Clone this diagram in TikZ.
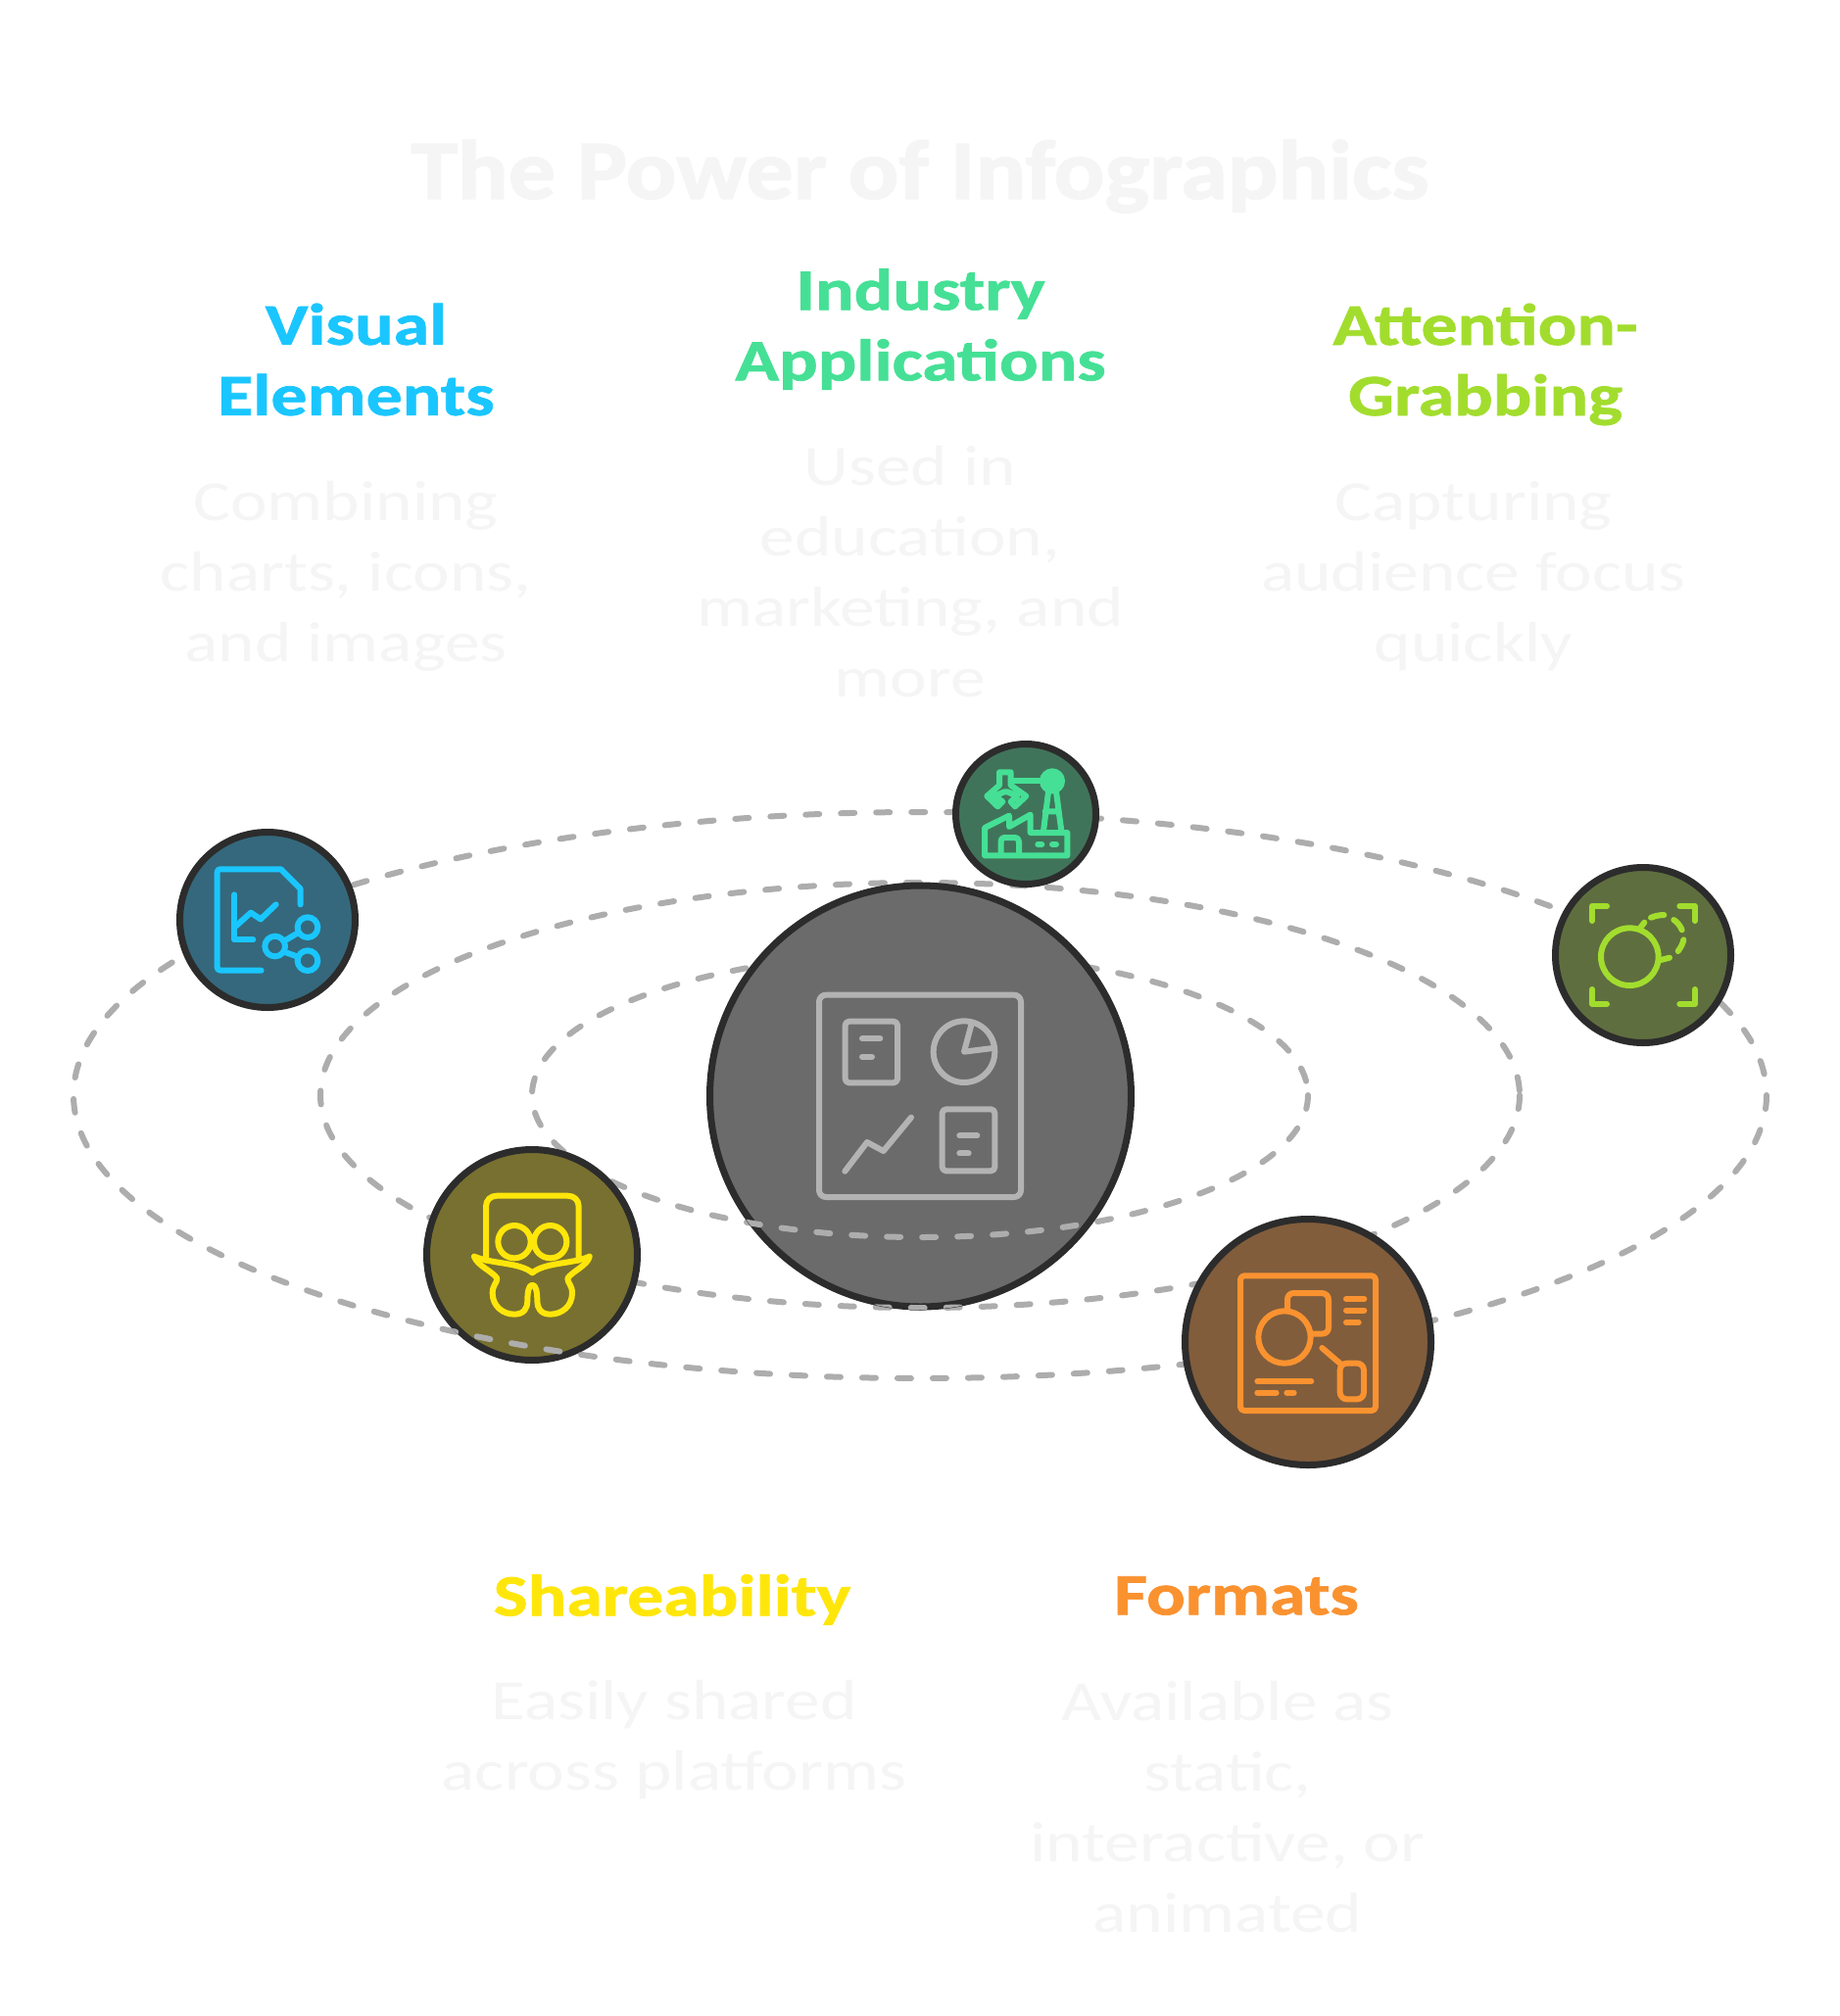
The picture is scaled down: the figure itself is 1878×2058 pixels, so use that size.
\documentclass[tikz,border=0pt]{standalone}
\usepackage{fontspec}
\setmainfont[FakeStretch=1.23,BoldFeatures={FakeBold=1.2}]{Carlito}
\newfontfamily\titlefont[FakeStretch=1.12,BoldFeatures={FakeBold=1.6}]{Carlito}
\definecolor{orbit}{HTML}{ADADAD}
\definecolor{ring}{HTML}{2C2C2C}
\definecolor{faint}{HTML}{F5F5F5}
\definecolor{cblue}{HTML}{1AC6FF}
\definecolor{cgreen}{HTML}{45E095}
\definecolor{clime}{HTML}{A2DD2E}
\definecolor{cyellow}{HTML}{FFE60A}
\definecolor{corange}{HTML}{FA9230}
\definecolor{cgray}{HTML}{B3B3B3}
\tikzset{
  orbitline/.style={draw=orbit,line width=6pt,line cap=round,dash pattern=on 14pt off 22pt},
  planet/.style={circle,draw=ring,line width=7pt,inner sep=0pt,outer sep=0pt},
  icon/.style={line width=6pt,line cap=round,line join=round},
  zoomed/.style={x=0.33333pt,y=-0.33333pt},
  heading/.style={font=\fontsize{60}{72}\selectfont\bfseries,align=center},
  bodytext/.style={font=\fontsize{58}{72}\selectfont,align=center,text=faint},
}
\begin{document}
\begin{tikzpicture}[x=1pt,y=-1pt]
\useasboundingbox (0,0) rectangle (1878,2058);
\fill[white] (0,0) rectangle (1878,2058);
\coordinate (mid) at (939,1118);
% orbits
\draw[orbitline] (mid) ellipse [x radius=864,y radius=289];
\draw[orbitline] (mid) ellipse [x radius=612,y radius=217];
\draw[orbitline] (mid) ellipse [x radius=396,y radius=145];
% circles
\node[planet,minimum size=430pt,fill={rgb,255:red,107;green,107;blue,107}] (hub) at (939.5,1119) {};
\node[planet,minimum size=179pt,fill={rgb,255:red,53;green,104;blue,124}] (visual) at (273,939) {};
\node[planet,minimum size=143pt,fill={rgb,255:red,64;green,116;blue,90}] (industry) at (1047,831) {};
\node[planet,minimum size=179pt,fill={rgb,255:red,95;green,110;blue,63}] (attention) at (1677,975) {};
\node[planet,minimum size=215pt,fill={rgb,255:red,120;green,112;blue,48}] (share) at (543,1281) {};
\node[planet,minimum size=251pt,fill={rgb,255:red,129;green,93;blue,60}] (formats) at (1335,1370) {};
% front halves of orbits over circles
\begin{scope}
  \clip (939.5,1119) circle [radius=218];
  \clip (0,1119) rectangle (1878,2058);
  \draw[orbitline] (mid) ellipse [x radius=612,y radius=217];
  \draw[orbitline] (mid) ellipse [x radius=396,y radius=145];
\end{scope}
\begin{scope}
  \clip (543,1281) circle [radius=111];
  \clip (0,1300) rectangle (1878,2058);
  \draw[orbitline] (mid) ellipse [x radius=864,y radius=289];
\end{scope}
% hub icon
\begin{scope}[shift={(710,890)},zoomed,icon,draw=cgray]
  \draw[rounded corners=7pt] (378,377) rectangle (996,996);
  \draw[rounded corners=4pt] (458,458) rectangle (618,646);
  \draw (510,511) -- (565,511) (510,566) -- (540,566);
  \draw (822,551) circle [radius=94];
  \draw (845,465) -- (822,551) -- (910,540);
  \draw (457,917) -- (525,828) -- (575,855) -- (660,752);
  \draw[rounded corners=4pt] (755,727) rectangle (916,916);
  \draw (808,808) -- (862,808) (808,862) -- (836,862);
\end{scope}
% visual icon
\begin{scope}[shift={(160,830)},zoomed,icon,draw=cblue]
  \draw (320,482) -- (197,482) .. controls (188,482) and (185,478) .. (185,472) -- (185,182) .. controls (185,175) and (188,172) .. (195,172) -- (380,172) -- (440,232) -- (440,280);
  \draw (238,250) -- (238,388) -- (295,388);
  \draw (238,350) -- (288,305) -- (318,325) -- (365,280);
  \draw (362,408) circle [radius=31] (462,350) circle [radius=31] (462,452) circle [radius=31];
  \draw (390,392) -- (432,367) (390,425) -- (432,440);
\end{scope}
% industry icon
\begin{scope}[shift={(960,740)},zoomed,icon,draw=cgreen]
  \draw (135,400) -- (135,315) -- (210,278) -- (210,312) -- (275,275) -- (275,330) -- (388,330) -- (388,400) -- cycle;
  \draw (185,398) -- (185,358) .. controls (185,348) and (190,345) .. (200,345) -- (225,345) .. controls (235,345) and (240,350) .. (240,358) -- (240,398);
  \draw[line width=6pt] (298,366) -- (310,366) (342,366) -- (354,366);
  \draw (315,325) -- (330,205) (370,325) -- (354,205) (320,265) -- (362,265);
  \draw[fill=cgreen] (342,172) circle [radius=30];
  \draw (215,172) -- (310,172);
  \draw (180,145) -- (215,145) -- (215,185) -- (262,218) -- (228,250) -- (215,235) -- (235,218) -- (205,205) -- (195,205) -- (165,218) -- (190,235) -- (175,250) -- (142,218) -- (180,185) -- cycle;
\end{scope}
% attention icon
\begin{scope}[shift={(1570,870)},zoomed,icon,draw=clime]
  \draw (165,210) -- (165,165) -- (210,165) (433,165) -- (480,165) -- (480,210) (165,420) -- (165,465) -- (210,465) (433,465) -- (480,465) -- (480,420);
  \draw (280,320) circle [radius=88];
  \draw (312,232) -- (325,215) (375,330) -- (402,323);
  \draw (345,200) .. controls (358,195) and (372,192) .. (385,192);
  \draw (415,207) .. controls (425,213) and (435,225) .. (440,238);
  \draw (445,268) .. controls (443,280) and (436,292) .. (428,303);
\end{scope}
% shareability icon
\begin{scope}[shift={(420,1160)},zoomed,icon,draw=cyellow]
  \draw (228,380) -- (228,215) .. controls (228,195) and (242,182) .. (262,182) -- (478,182) .. controls (498,182) and (512,195) .. (512,215) -- (512,380);
  \draw (315,323) circle [radius=50] (425,323) circle [radius=50];
  \draw (192,368) .. controls (250,392) and (330,385) .. (370,418) .. controls (410,385) and (490,392) .. (545,368);
  \draw (192,368) .. controls (200,395) and (250,415) .. (262,435) .. controls (262,450) and (248,455) .. (248,480) .. controls (248,520) and (280,545) .. (315,545) .. controls (345,545) and (355,525) .. (355,505) .. controls (355,480) and (358,455) .. (370,455) .. controls (382,455) and (385,480) .. (385,505) .. controls (385,525) and (395,545) .. (425,545) .. controls (460,545) and (492,520) .. (492,480) .. controls (492,455) and (478,450) .. (478,435) .. controls (490,415) and (540,395) .. (545,368);
\end{scope}
% formats icon
\begin{scope}[shift={(1200,1240)},zoomed,icon,draw=corange]
  \draw[rounded corners=4pt] (198,187) rectangle (612,600);
  \draw (333,375) circle [radius=80];
  \draw (342,290) -- (342,260) .. controls (342,248) and (350,240) .. (362,240) -- (445,240) .. controls (460,240) and (468,248) .. (468,262) -- (468,345) .. controls (468,358) and (460,365) .. (445,365) -- (418,365);
  \draw (522,258) -- (577,258) (522,293) -- (577,293) (522,330) -- (560,330);
  \draw (250,510) -- (415,510) (250,545) -- (308,545) (340,545) -- (362,545);
  \draw (448,408) -- (505,457);
  \draw[rounded corners=7pt] (503,455) rectangle (576,565);
\end{scope}
% texts
\node[font=\titlefont\fontsize{86}{90}\selectfont\bfseries,text=faint] (title) at (939,180) {The Power of Infographics};
\node[heading,text=cblue] (hvisual) at (363.5,367) {Visual\\Elements};
\node[heading,text=cgreen] (hindustry) at (939.5,336) {Industry\\Applications};
\node[heading,text=clime] (hattention) at (1516,372) {Attention-\\Grabbing};
\node[heading,text=cyellow] (hshare) at (686,1633) {Shareability};
\node[heading,text=corange] (hformats) at (1262,1629) {Formats};
\node[bodytext] (tvisual) at (353,588) {Combining\\charts, icons,\\and images};
\node[bodytext] (tindustry) at (929,584) {Used in\\education,\\marketing, and\\more};
\node[bodytext] (tattention) at (1504,588) {Capturing\\audience focus\\quickly};
\node[bodytext] (tshare) at (688,1776) {Easily shared\\across platforms};
\node[bodytext] (tformats) at (1253,1845) {Available as\\static,\\interactive, or\\animated};
\end{tikzpicture}
\end{document}
